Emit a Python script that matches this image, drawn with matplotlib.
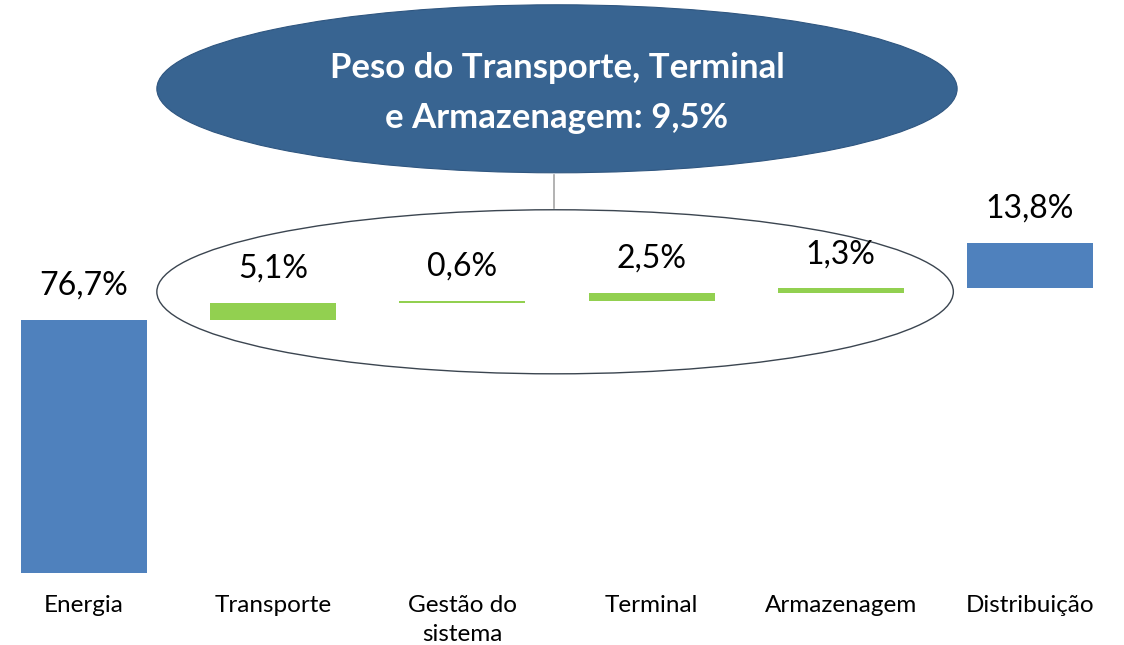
import matplotlib
matplotlib.use('Agg')
import matplotlib.pyplot as plt
from matplotlib.patches import Ellipse
import numpy as np

categories = ['Energia', 'Transporte', 'Gestão do\nsistema', 'Terminal', 'Armazenagem', 'Distribuição']
values = [76.7, 5.1, 0.6, 2.5, 1.3, 13.8]
value_labels = ['76,7%', '5,1%', '0,6%', '2,5%', '1,3%', '13,8%']
highlight = [False, True, True, True, True, False]
title_lines = ['Peso do Transporte, Terminal', 'e Armazenagem: 9,5%']

BLUE = '#4F81BD'
GREEN = '#92D050'
DARK = '#386491'

plt.rcParams['font.family'] = ['Lato', 'DejaVu Sans']

fig = plt.figure(figsize=(11.24, 6.45), dpi=100)
ax = fig.add_axes([0, 0.1116, 1, 0.8884])

x = np.arange(len(categories))
bottoms = np.concatenate([[0], np.cumsum(values)[:-1]])
colors = [GREEN if h else BLUE for h in highlight]
bars = ax.bar(x, values, bottom=bottoms, width=0.666, color=colors, zorder=3)

for bar, lab in zip(bars, value_labels):
    top = bar.get_y() + bar.get_height()
    ax.annotate(lab, (bar.get_x() + bar.get_width() / 2, top),
                xytext=(0, 14), textcoords='offset points',
                ha='center', va='bottom', fontsize=23, color='black')

ax.set_xlim(-0.444, 5.497)
ax.set_ylim(0, 173.6)
ax.set_xticks(x)
ax.set_xticklabels(categories, fontsize=17.5, linespacing=1.45)
ax.tick_params(axis='x', length=0, pad=16)
ax.set_yticks([])
for s in ax.spines.values():
    s.set_visible(False)

# ellipse around the highlighted group
ax.add_patch(Ellipse((2.49, 85.2), 4.21, 49.7, facecolor='none',
                     edgecolor='#3B4550', lw=1.0, zorder=2))
# connector
ax.plot([2.483, 2.483], [110.5, 120.6], color='#A6A6A6', lw=1.2, zorder=1)
# title ellipse
ax.add_patch(Ellipse((2.50, 146.7), 4.23, 50.9, facecolor=DARK,
                     edgecolor='#2F5680', lw=0.8, zorder=2, clip_on=False))
ax.text(2.50, 153.0, title_lines[0], ha='center', va='center', fontsize=25,
        fontweight='bold', color='white', zorder=4)
ax.text(2.50, 137.9, title_lines[1], ha='center', va='center', fontsize=25,
        fontweight='bold', color='white', zorder=4)

fig.savefig('out.png', dpi=100)
